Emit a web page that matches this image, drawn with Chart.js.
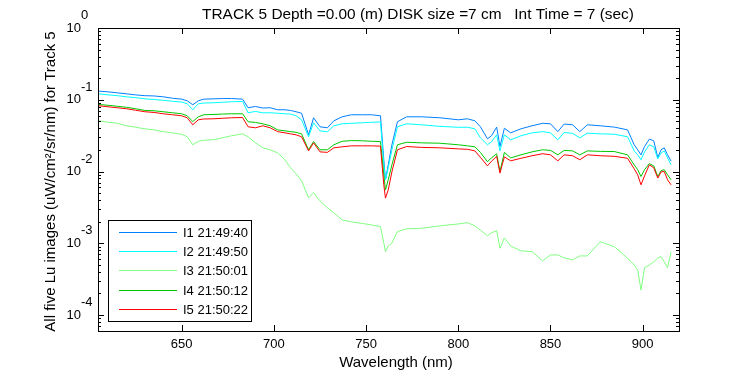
<!DOCTYPE html>
<html>
<head>
<meta charset="utf-8">
<script src="https://cdn.jsdelivr.net/npm/chart.js@4.4.0/dist/chart.umd.min.js"></script>
<style>
  body { margin: 0; background: #fff; }
  canvas { display: block; }
</style>
</head>
<body>
<canvas id="myChart" width="750" height="375"></canvas>
<script>
// wavelengths (nm) shared by all five scans
const wavelengths = [605, 610, 615, 620, 625, 630, 635, 640, 645, 650,
  653, 656, 659, 662, 667, 672, 677, 683, 686, 690,
  694, 698, 702, 706, 709, 712, 715, 718.8, 721.5, 725,
  729, 732.5, 737, 742, 748, 753, 757.8, 759.6, 760.5, 762,
  764, 767, 772, 780, 790, 800, 805, 809, 812, 815.8,
  818, 820.8, 822.6, 825, 828.4, 834, 840, 845.7, 850, 854,
  857.4, 862, 865.9, 870, 877, 884.6, 891.8, 895.4, 897.3, 899.1,
  901, 903.6, 906, 908.2, 910, 911.7, 913.5, 915.4];

const i1 = [0.132, 0.129, 0.125, 0.121, 0.117, 0.114, 0.113, 0.110, 0.105, 0.102,
  0.0968, 0.0852, 0.0968, 0.102, 0.103, 0.104, 0.104, 0.102, 0.0774, 0.0807,
  0.0767, 0.0774, 0.0726, 0.0726, 0.0710, 0.0681, 0.0649, 0.0325, 0.0561, 0.0420,
  0.0407, 0.0509, 0.0579, 0.0618, 0.0618, 0.0618, 0.0598, 0.0146, 0.00766, 0.0124,
  0.0236, 0.0494, 0.0579, 0.0579, 0.0561, 0.0526, 0.0543, 0.0509, 0.0420, 0.0286,
  0.0315, 0.0416, 0.0223, 0.0401, 0.0346, 0.0394, 0.0434, 0.0470, 0.0463, 0.0360,
  0.0459, 0.0448, 0.0360, 0.0448, 0.0434, 0.0416, 0.0381, 0.0236, 0.0201, 0.0171,
  0.0223, 0.0283, 0.0268, 0.0157, 0.0201, 0.0214, 0.0171, 0.0140];

const i2 = [0.121, 0.117, 0.114, 0.110, 0.107, 0.103, 0.101, 0.0984, 0.0953, 0.0930,
  0.0880, 0.0726, 0.0880, 0.0900, 0.0908, 0.0923, 0.0938, 0.0947, 0.0659, 0.0688,
  0.0659, 0.0659, 0.0649, 0.0638, 0.0632, 0.0598, 0.0526, 0.0305, 0.0478, 0.0369,
  0.0358, 0.0434, 0.0463, 0.0470, 0.0478, 0.0486, 0.0490, 0.0124, 0.00766, 0.0113,
  0.0201, 0.0420, 0.0463, 0.0448, 0.0426, 0.0414, 0.0414, 0.0394, 0.0295, 0.0236,
  0.0259, 0.0325, 0.0194, 0.0325, 0.0277, 0.0315, 0.0346, 0.0360, 0.0346, 0.0277,
  0.0350, 0.0340, 0.0295, 0.0343, 0.0335, 0.0331, 0.0305, 0.0194, 0.0171, 0.0146,
  0.0188, 0.0236, 0.0221, 0.0150, 0.0182, 0.0194, 0.0155, 0.0124];

const i3 = [0.0509, 0.0486, 0.0471, 0.0434, 0.0414, 0.0394, 0.0381, 0.0360, 0.0346, 0.0330,
  0.0305, 0.0236, 0.0264, 0.0273, 0.0277, 0.0295, 0.0315, 0.0335, 0.0305, 0.0251,
  0.0214, 0.0201, 0.0182, 0.0146, 0.0113, 0.00929, 0.00742, 0.00430, 0.00509, 0.00390,
  0.00312, 0.00266, 0.00212, 0.00199, 0.00189, 0.00180, 0.00171, 0.00101, 0.000766, 0.000920,
  0.00101, 0.00146, 0.00159, 0.00162, 0.00175, 0.00186, 0.00194, 0.00175, 0.00153, 0.00127,
  0.00140, 0.00150, 0.000855, 0.00119, 0.000920, 0.000784, 0.000766, 0.000570, 0.000689, 0.000689,
  0.000626, 0.000587, 0.000667, 0.000667, 0.00105, 0.000899, 0.000620, 0.000500, 0.000426, 0.000223,
  0.000456, 0.000500, 0.000551, 0.000626, 0.000653, 0.000551, 0.000456, 0.000766];

const i4 = [0.0860, 0.0838, 0.0812, 0.0786, 0.0750, 0.0710, 0.0703, 0.0681, 0.0659, 0.0638,
  0.0598, 0.0497, 0.0579, 0.0618, 0.0624, 0.0632, 0.0638, 0.0638, 0.0494, 0.0483,
  0.0463, 0.0434, 0.0381, 0.0369, 0.0360, 0.0352, 0.0335, 0.0201, 0.0262, 0.0201,
  0.0201, 0.0236, 0.0264, 0.0270, 0.0268, 0.0264, 0.0262, 0.00899, 0.00555, 0.00766,
  0.0124, 0.0236, 0.0256, 0.0251, 0.0248, 0.0236, 0.0228, 0.0221, 0.0185, 0.0137,
  0.0155, 0.0177, 0.0100, 0.0185, 0.0155, 0.0171, 0.0188, 0.0201, 0.0197, 0.0171,
  0.0197, 0.0194, 0.0171, 0.0194, 0.0191, 0.0190, 0.0171, 0.0124, 0.0106, 0.00852,
  0.0106, 0.0129, 0.0120, 0.00852, 0.0103, 0.0106, 0.00899, 0.00766];

const i5 = [0.0825, 0.0799, 0.0774, 0.0750, 0.0715, 0.0681, 0.0666, 0.0638, 0.0618, 0.0598,
  0.0561, 0.0448, 0.0526, 0.0540, 0.0543, 0.0552, 0.0561, 0.0566, 0.0420, 0.0407,
  0.0434, 0.0407, 0.0360, 0.0346, 0.0335, 0.0325, 0.0305, 0.0194, 0.0251, 0.0188,
  0.0185, 0.0214, 0.0221, 0.0228, 0.0228, 0.0228, 0.0226, 0.00653, 0.00426, 0.00555,
  0.00990, 0.0201, 0.0223, 0.0217, 0.0214, 0.0207, 0.0204, 0.0194, 0.0158, 0.0120,
  0.0139, 0.0163, 0.00950, 0.0160, 0.0141, 0.0153, 0.0166, 0.0177, 0.0171, 0.0141,
  0.0171, 0.0166, 0.0146, 0.0171, 0.0166, 0.0163, 0.0153, 0.0109, 0.00899, 0.00653,
  0.00870, 0.0124, 0.0113, 0.00810, 0.00990, 0.0100, 0.00766, 0.00653];

const seriesLabels = ['I1 21:49:40', 'I2 21:49:50', 'I3 21:50:01', 'I4 21:50:12', 'I5 21:50:22'];
const seriesColors = ['#0080ff', '#00ffff', '#80ff80', '#00c800', '#ff0000'];
const seriesValues = [i1, i2, i3, i4, i5];
const xTickValues = [650, 700, 750, 800, 850, 900];

const titleText = 'TRACK 5 Depth =0.00 (m) DISK size =7 cm   Int Time = 7 (sec)';
const xTitle = 'Wavelength (nm)';
const yTitle = 'All five Lu images (uW/cm\u00B2/sr/nm) for Track 5';

const FONT = '"Liberation Sans", Arial, sans-serif';
Chart.defaults.font.family = FONT;
Chart.defaults.color = '#000';

function isDecade(v) {
  const l = Math.log10(v);
  return Math.abs(l - Math.round(l)) < 1e-6;
}

// axes box, inward ticks, exponents, titles and legend (MATLAB look)
const matlabFrame = {
  id: 'matlabFrame',
  afterDraw(chart) {
    const {ctx, chartArea: a, scales: {x, y}} = chart;
    ctx.save();
    ctx.strokeStyle = '#000';
    ctx.lineWidth = 1;
    ctx.strokeRect(a.left + 0.5, a.top + 0.5, a.right - a.left, a.bottom - a.top);

    ctx.beginPath();
    x.ticks.forEach(t => {
      const px = Math.round(x.getPixelForValue(t.value)) + 0.5;
      ctx.moveTo(px, a.bottom); ctx.lineTo(px, a.bottom - 6);
      ctx.moveTo(px, a.top); ctx.lineTo(px, a.top + 6);
    });
    y.ticks.forEach(t => {
      const py = Math.round(y.getPixelForValue(t.value)) + 0.5;
      const len = isDecade(t.value) ? 6 : 3;
      ctx.moveTo(a.left, py); ctx.lineTo(a.left + len, py);
      ctx.moveTo(a.right, py); ctx.lineTo(a.right - len, py);
    });
    ctx.stroke();

    // exponents next to the "10" tick labels
    ctx.fillStyle = '#000';
    ctx.font = '13px ' + FONT;
    ctx.textAlign = 'left';
    ctx.textBaseline = 'middle';
    y.ticks.forEach(t => {
      if (!isDecade(t.value)) return;
      const py = y.getPixelForValue(t.value);
      ctx.fillText(String(Math.round(Math.log10(t.value))), 81, py - 12.5);
    });

    // titles
    ctx.font = '15.4px ' + FONT;
    ctx.textAlign = 'center';
    ctx.textBaseline = 'alphabetic';
    ctx.fillText(titleText, 418, 18.5);
    ctx.font = '15px ' + FONT;
    ctx.fillText(xTitle, 396, 367);
    ctx.save();
    ctx.translate(55, 181.5);
    ctx.rotate(-Math.PI / 2);
    ctx.fillText(yTitle, 0, 0);
    ctx.restore();

    // legend
    const lx = 108, ly = 220, lw = 143, lh = 101;
    ctx.fillStyle = '#fff';
    ctx.fillRect(lx, ly, lw, lh);
    ctx.strokeStyle = '#000';
    ctx.strokeRect(lx + 0.5, ly + 0.5, lw, lh);
    ctx.font = '13px ' + FONT;
    ctx.textAlign = 'left';
    ctx.textBaseline = 'middle';
    chart.data.datasets.forEach((ds, k) => {
      const ry = Math.round(232 + k * 19.2) + 0.5;
      ctx.strokeStyle = ds.borderColor;
      ctx.beginPath();
      ctx.moveTo(119, ry); ctx.lineTo(177, ry);
      ctx.stroke();
      ctx.fillStyle = '#000';
      ctx.fillText(ds.label, 183, ry + 0.5);
    });
    ctx.restore();
  }
};

const ctx = document.getElementById('myChart').getContext('2d');
new Chart(ctx, {
  type: 'line',
  data: {
    datasets: seriesValues.map((vals, k) => ({
      label: seriesLabels[k],
      data: wavelengths.map((w, j) => ({x: w, y: vals[j]})),
      borderColor: seriesColors[k],
      borderWidth: 1,
      pointRadius: 0,
      tension: 0,
      fill: false,
      order: 4 - k
    }))
  },
  options: {
    responsive: false,
    animation: false,
    devicePixelRatio: 1,
    layout: {padding: {left: 0, top: 28, right: 71, bottom: 0}},
    plugins: {
      legend: {display: false},
      tooltip: {enabled: false}
    },
    scales: {
      x: {
        type: 'linear',
        min: 604.6,
        max: 919.7,
        grid: {display: false, drawTicks: false},
        border: {display: false},
        ticks: {font: {size: 13}, padding: 6, maxRotation: 0, autoSkip: false},
        afterBuildTicks: s => { s.ticks = xTickValues.map(v => ({value: v})); },
        afterFit: s => { s.height = 44; }
      },
      y: {
        type: 'logarithmic',
        min: 6e-5,
        max: 1,
        grid: {display: false, drawTicks: false},
        border: {display: false},
        ticks: {
          autoSkip: false,
          font: {size: 13},
          padding: 17,
          callback: v => isDecade(v) ? '10' : ''
        },
        afterBuildTicks: s => {
          s.ticks = s.ticks.filter(t => {
            const p = Math.pow(10, Math.floor(Math.log10(t.value) + 1e-9));
            const m = t.value / p;
            return Math.abs(m - Math.round(m)) < 1e-6;
          });
        },
        afterFit: s => { s.width = 98; }
      }
    }
  },
  plugins: [matlabFrame]
});
</script>
</body>
</html>
